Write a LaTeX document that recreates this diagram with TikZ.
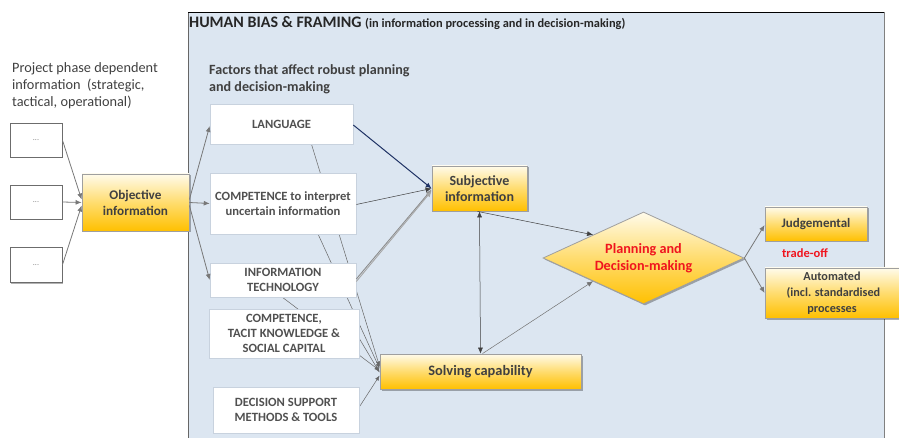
\documentclass[tikz,border=0pt]{standalone}
\usepackage{fontspec}
\setmainfont{Carlito}
\usetikzlibrary{arrows.meta,shapes.geometric,shadows}
\definecolor{panel}{RGB}{220,230,241}
\definecolor{txt}{RGB}{64,64,64}
\definecolor{ftxt}{RGB}{80,80,80}
\definecolor{gold}{RGB}{255,192,0}
\definecolor{goldmid}{RGB}{255,220,110}
\definecolor{goldtop}{RGB}{255,251,235}
\definecolor{navy}{RGB}{31,50,100}
\definecolor{redtxt}{RGB}{240,20,30}
\definecolor{con}{RGB}{120,120,120}
\definecolor{wborder}{RGB}{200,210,222}
\pgfdeclarelayer{back}
\pgfdeclarelayer{bg}
\pgfsetlayers{back,bg,main}
\tikzset{
  gbox/.style={draw=gray!75, line width=0.8pt, top color=goldtop, bottom color=gold, middle color=goldmid,
    drop shadow={shadow xshift=1.5pt, shadow yshift=-1.5pt, fill=black, opacity=0.3},
    inner sep=0pt, align=center, text=txt, font=\fontsize{14}{16}\selectfont\bfseries},
  wbox/.style={draw=wborder, line width=0.6pt, fill=white, inner sep=0pt, align=center, text=ftxt,
    font=\fontsize{12.6}{15.3}\selectfont\bfseries},
  dbox/.style={draw=gray!85!black, line width=0.8pt, fill=white, inner sep=0pt, text=gray,
    drop shadow={shadow xshift=1.2pt, shadow yshift=-1.2pt, fill=black, opacity=0.3},
    font=\fontsize{8}{10}\selectfont},
  garr/.style={draw=con, line width=0.8pt, -{Latex[length=6pt,width=5pt]}},
  karr/.style={draw=black!75, line width=0.5pt, -{Latex[length=6pt,width=5pt]}},
  narr/.style={draw=navy, line width=1pt, -{Latex[length=6pt,width=5pt]}},
  hline/.style={draw=black!60, line width=0.5pt, -{Latex[length=5pt,width=4pt]}},
}
\begin{document}
\begin{tikzpicture}[x=1pt,y=-1pt]
\useasboundingbox (0,0) rectangle (899,438);
% panel
\begin{pgfonlayer}{back}
\fill[panel] (188,12) rectangle (884,438);
\draw[gray!80!black, line width=0.8pt] (188,438) -- (188,12);
\draw[black, line width=0.8pt] (188,12) -- (884,12);
\draw[gray, line width=0.6pt] (884,12) -- (884,438);
\end{pgfonlayer}

% texts
\node[anchor=base west, inner sep=0pt, text=black!85] (title) at (189,28)
  {\fontsize{16}{18}\selectfont\bfseries HUMAN BIAS \& FRAMING\ \fontsize{12.4}{14}\selectfont(in information processing and in decision-making)};
\node[anchor=north west, inner sep=0pt, align=left, text=txt, font=\fontsize{14.3}{16.7}\selectfont] (proj) at (12,62.5)
  {Project phase dependent\\information\ \ (strategic,\\tactical, operational)};
\node[anchor=north west, inner sep=0pt, align=left, text=txt, font=\fontsize{14.1}{17}\selectfont\bfseries] (fact) at (209,64.5)
  {Factors that affect robust planning\\and decision-making};

% nodes
\node[dbox, minimum width=52pt, minimum height=34pt] (d1) at (36,140) {...};
\node[dbox, minimum width=52pt, minimum height=34pt] (d2) at (36,202) {...};
\node[dbox, minimum width=52pt, minimum height=35pt] (d3) at (36,265) {...};
\node[gbox, font=\fontsize{13.2}{16}\selectfont\bfseries, minimum width=107pt, minimum height=57pt] (obj) at (135.5,202.5) {Objective\\information};

\node[wbox, minimum width=143pt, minimum height=40pt] (lang) at (281.5,124) {LANGUAGE};
\node[wbox, minimum width=146pt, minimum height=61pt] (comp) at (283,203.5) {COMPETENCE to interpret\\uncertain information};
\node[wbox, minimum width=146pt, minimum height=34pt] (it) at (283,280) {INFORMATION\\TECHNOLOGY};
\node[wbox, minimum width=150pt, minimum height=49pt] (tacit) at (284,333.5) {COMPETENCE,\\TACIT KNOWLEDGE \&\\SOCIAL CAPITAL};
\node[wbox, minimum width=146pt, minimum height=46pt] (dss) at (286,410) {DECISION SUPPORT\\METHODS \& TOOLS};

\node[gbox, font=\fontsize{14.4}{16}\selectfont\bfseries, minimum width=201pt, minimum height=35pt] (solv) at (480.5,371.5) {Solving capability};
\node[gbox, minimum width=95pt, minimum height=45pt] (subj) at (479.5,188.5) {Subjective\\information};
\node[gbox, diamond, aspect=2.18, font=\fontsize{14.2}{17}\selectfont\bfseries, minimum width=201pt, minimum height=92pt, text=redtxt] (dm) at (643.5,258) {Planning and\\Decision-making};
\node[gbox, minimum width=102pt, minimum height=34pt, font=\fontsize{13}{15}\selectfont\bfseries] (judg) at (816,224) {Judgemental};
\node[gbox, minimum width=134pt, minimum height=50pt, font=\fontsize{12.2}{15.8}\selectfont\bfseries] (auto) at (832,293) {Automated\\\ (incl. standardised\\processes};
\node[inner sep=0pt, text=redtxt, font=\fontsize{12.5}{14}\selectfont\bfseries] (trade) at (805,253) {trade-off};

% connectors
\draw[garr] (d1.east) -- ([yshift=3pt]obj.west);
\draw[garr] (d2.east) -- (obj.west);
\draw[garr] (d3.east) -- ([yshift=-3pt]obj.west);
\draw[garr] ([yshift=3pt]obj.east) -- ([yshift=-2pt]lang.west);
\draw[garr] (obj.east) -- (comp.west);
\draw[garr] ([yshift=-3pt]obj.east) -- (it.west);

\draw[narr] ([yshift=-1pt]lang.east) -- (subj.west);
\draw[karr] ([yshift=-1pt]comp.east) -- (subj.west);
\draw[draw=gray!90, line width=0.9pt, -{Latex[length=6pt,width=5pt]}] ([yshift=1pt]it.east) -- ([yshift=-1pt]subj.west);
\draw[draw=gray!70, line width=0.9pt, -{Latex[length=6pt,width=5pt]}] ([yshift=-1.5pt]it.east) -- ([yshift=-2.5pt]subj.west);

\begin{pgfonlayer}{bg}
\draw[hline] ([xshift=30pt]lang.south) -- ([yshift=5pt]solv.west);
\draw[hline] ([xshift=24pt,yshift=-6.5pt]comp.center) -- ([yshift=3pt]solv.west);
\draw[hline] ([xshift=-13pt,yshift=-8pt]it.center) -- ([yshift=1pt]solv.west);
\draw[hline] ([yshift=-5pt]tacit.east) -- ([yshift=-1pt]solv.west);
\draw[hline] ([yshift=3pt]dss.east) -- ([yshift=-4pt]solv.west);
\end{pgfonlayer}

\draw[karr, {Latex[length=6pt,width=5pt]}-{Latex[length=6pt,width=5pt]}] (subj.south) -- (solv.north);
\draw[karr] ([xshift=-2pt]subj.south) -- (dm.north west);
\draw[karr, draw=black!55] ([xshift=2pt]solv.north) -- (dm.south west);
\draw[garr] (dm.east) -- ([yshift=-1pt]judg.west);
\draw[garr] (dm.east) -- (auto.west);
\end{tikzpicture}
\end{document}
